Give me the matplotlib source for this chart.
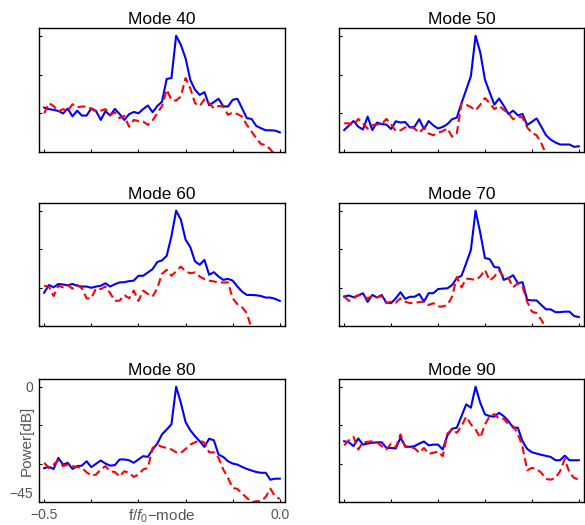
import numpy as np
import matplotlib
matplotlib.use("Agg")
from matplotlib import pyplot
from matplotlib.transforms import ScaledTranslation

pyplot.rcParams['font.family'] = ['Liberation Sans', 'DejaVu Sans']
pyplot.rcParams['mathtext.fontset'] = 'custom'
pyplot.rcParams['mathtext.rm'] = 'Liberation Sans'
pyplot.rcParams['mathtext.it'] = 'Liberation Sans:italic'

freq = np.round(np.linspace(-0.5, 0.0, 51), 2)
modes = [40, 50, 60, 70, 80, 90]

blue_40 = [-27.8, -28.4, -28.7, -29.1, -30.1, -28.2, -31.2, -29.0, -30.9, -30.9,
           -28.1, -29.1, -32.6, -29.2, -30.9, -28.3, -30.3, -32.6, -30.4, -29.5,
           -30.0, -28.4, -27.0, -29.6, -27.2, -25.5, -16.7, -16.4, 0.0, -3.5,
           -8.7, -17.1, -20.9, -22.9, -21.8, -26.9, -25.7, -24.4, -27.3, -27.4,
           -24.8, -24.4, -28.1, -31.9, -32.2, -34.9, -35.8, -36.6, -36.6, -36.7,
           -37.4]
red_40 = [-30.0, -26.1, -27.2, -29.3, -28.4, -29.1, -26.5, -27.7, -27.4, -27.4,
          -28.3, -29.3, -29.0, -28.4, -30.6, -29.6, -31.9, -31.0, -35.2, -32.6,
          -33.0, -33.2, -34.5, -32.8, -30.0, -27.2, -20.9, -24.8, -25.1, -23.5,
          -16.4, -20.3, -26.1, -27.2, -24.6, -26.1, -28.1, -27.2, -27.4, -30.6,
          -29.7, -30.3, -31.3, -34.5, -37.1, -39.7, -41.9, -42.3, -44.0, -46.2,
          -49.0]

blue_50 = [-36.5, -34.8, -33.0, -35.2, -36.3, -31.3, -36.5, -33.6, -34.2, -34.4,
           -36.1, -33.1, -33.6, -33.4, -35.5, -35.2, -32.3, -36.1, -33.0, -34.7,
           -35.9, -35.3, -34.2, -32.3, -31.7, -26.1, -20.9, -15.6, 0.0, -6.5,
           -17.0, -21.9, -26.7, -24.3, -27.1, -30.3, -29.0, -30.8, -30.3, -34.6,
           -33.3, -32.0, -35.2, -38.5, -40.2, -41.3, -42.1, -42.1, -42.1, -43.0,
           -42.8]
red_50 = [-33.9, -33.9, -34.6, -32.2, -33.9, -36.0, -34.6, -34.3, -34.2, -32.2,
          -34.3, -36.9, -36.6, -35.5, -35.2, -35.9, -37.6, -35.6, -37.8, -38.5,
          -37.6, -36.9, -35.9, -39.1, -37.8, -26.1, -26.7, -27.6, -28.9, -26.7,
          -24.1, -26.1, -28.4, -27.1, -28.7, -30.0, -32.3, -31.3, -31.6, -35.5,
          -37.6, -38.5, -41.7, -45.6, -50.2, -53.0, -56.0, -59.0, -62.0, -65.0,
          -68.0]

blue_60 = [-32.0, -29.0, -29.9, -28.6, -28.8, -29.1, -28.6, -29.3, -29.6, -29.6,
           -30.1, -29.6, -29.3, -28.3, -29.6, -28.7, -28.0, -27.9, -27.5, -27.3,
           -25.4, -25.4, -24.1, -22.8, -20.0, -19.4, -17.6, -10.0, 0.0, -3.5,
           -11.3, -14.2, -19.8, -21.1, -19.2, -25.0, -24.0, -25.7, -27.0, -26.6,
           -27.3, -29.6, -31.6, -32.9, -32.9, -33.0, -33.3, -33.9, -33.9, -34.4,
           -35.2]
red_60 = [-29.3, -29.6, -33.3, -29.3, -29.9, -29.0, -30.4, -29.0, -30.3, -34.2,
          -34.2, -30.3, -30.6, -29.6, -32.2, -35.2, -35.1, -32.9, -34.2, -31.2,
          -35.2, -31.2, -32.5, -33.5, -30.3, -24.6, -23.1, -25.4, -23.7, -21.8,
          -23.7, -24.4, -24.1, -25.7, -26.7, -27.3, -27.6, -28.0, -28.0, -28.0,
          -34.2, -36.5, -37.7, -40.0, -46.0, -50.0, -53.0, -56.0, -59.0, -62.0,
          -65.0]

blue_70 = [-33.5, -33.1, -33.8, -33.1, -32.2, -35.6, -32.9, -33.9, -32.9, -35.9,
           -36.1, -34.2, -31.8, -34.4, -33.6, -33.6, -32.5, -35.5, -32.2, -32.2,
           -30.6, -30.4, -30.3, -29.0, -26.3, -25.4, -20.5, -15.3, 0.0, -8.7,
           -18.5, -18.9, -22.0, -22.2, -27.0, -26.3, -25.2, -28.3, -27.9, -34.8,
           -35.0, -35.0, -36.8, -38.5, -38.5, -39.6, -39.6, -39.4, -39.4, -41.1,
           -41.5]
red_70 = [-33.5, -35.2, -34.2, -32.9, -33.3, -34.2, -33.3, -33.8, -33.3, -36.1,
          -35.5, -35.9, -34.2, -35.5, -36.1, -35.9, -35.7, -35.5, -36.8, -36.1,
          -37.4, -37.4, -36.8, -33.5, -25.9, -29.9, -26.5, -26.7, -27.0, -25.7,
          -23.1, -27.3, -25.7, -23.3, -25.9, -26.3, -29.9, -28.3, -29.6, -35.5,
          -39.4, -40.0, -42.6, -45.9, -49.2, -52.0, -55.0, -58.0, -60.0, -62.0,
          -64.0]

blue_80 = [-31.8, -31.3, -32.1, -27.8, -30.4, -29.7, -32.1, -31.0, -30.8, -29.1,
           -31.4, -30.1, -28.8, -30.0, -30.8, -30.6, -28.4, -28.4, -28.7, -29.7,
           -28.4, -27.1, -27.4, -24.5, -22.2, -18.6, -16.7, -14.7, 0.0, -6.3,
           -13.8, -17.0, -19.3, -21.3, -23.5, -20.3, -20.9, -26.5, -27.4, -29.1,
           -30.0, -30.4, -31.3, -32.1, -32.7, -33.3, -33.6, -33.6, -36.3, -35.9,
           -35.9]
red_80 = [-29.7, -31.7, -30.4, -28.7, -31.0, -30.4, -31.0, -31.3, -31.7, -33.4,
          -34.7, -34.3, -32.3, -31.0, -33.0, -33.3, -35.0, -33.0, -33.6, -35.2,
          -34.3, -32.3, -31.7, -23.9, -22.6, -23.5, -23.9, -24.5, -25.6, -25.8,
          -24.3, -22.6, -21.7, -20.9, -21.9, -25.6, -25.6, -27.8, -32.3, -35.6,
          -39.5, -39.9, -41.7, -43.4, -45.1, -44.7, -44.7, -43.0, -39.8, -42.8,
          -43.8]

blue_90 = [-21.3, -21.7, -23.2, -20.2, -22.6, -22.2, -21.9, -21.7, -21.7, -23.9,
           -23.9, -24.1, -19.9, -23.2, -23.5, -23.2, -22.2, -21.4, -22.9, -22.6,
           -22.6, -24.5, -19.0, -16.4, -16.0, -11.5, -6.9, -8.2, 0.0, -6.3,
           -10.8, -11.5, -11.7, -10.2, -11.5, -13.4, -16.0, -16.0, -21.3, -24.3,
           -25.6, -26.1, -26.6, -27.0, -27.4, -28.7, -28.7, -26.9, -28.7, -28.7,
           -28.7]
red_90 = [-22.9, -20.9, -19.6, -24.5, -21.7, -21.5, -21.3, -21.7, -23.2, -24.5,
          -22.2, -23.7, -18.6, -23.5, -23.7, -24.0, -25.8, -23.9, -26.2, -25.8,
          -25.3, -27.1, -18.3, -16.7, -18.0, -15.4, -11.7, -14.7, -16.7, -19.9,
          -14.7, -11.5, -10.7, -12.5, -12.5, -14.7, -15.4, -18.3, -23.5, -32.6,
          -31.7, -32.1, -33.6, -36.0, -36.3, -35.6, -33.0, -28.2, -33.6, -35.6,
          -36.3]

blue_sets = [blue_40, blue_50, blue_60, blue_70, blue_80, blue_90]
red_sets = [red_40, red_50, red_60, red_70, red_80, red_90]

fig = pyplot.figure(figsize=(5.85, 5.25), dpi=100)

lefts = [39 / 585, 339 / 585]
widths = [246 / 585, 245 / 585]
bottoms = [1 - 152 / 525, 1 - 326 / 525, 1 - 502 / 525]
heights = [124 / 525, 123 / 525, 123 / 525]
label_color = '#555555'

for i, mode in enumerate(modes):
    row, col = divmod(i, 2)
    ax = fig.add_axes([lefts[col], bottoms[row], widths[col], heights[row]])
    ax.plot(freq, blue_sets[i], color='#0000ff', lw=1.5)
    ax.plot(freq, red_sets[i], color='#ff0000', lw=1.5, linestyle=(0, (3.8, 2.0)))
    ax.set_xlim(-0.511, 0.011)
    ax.set_ylim(-45, 3)
    ax.set_xticks([-0.5, -0.4, -0.3, -0.2, -0.1, 0.0])
    ax.set_yticks([0, -15, -30, -45])
    ax.tick_params(direction='in', length=2.5, width=0.8, top=False, right=False,
                   labelsize=10, labelcolor=label_color, pad=4)
    for s in ax.spines.values():
        s.set_linewidth(1.0)
        s.set_color('black')
    ax.set_title('Mode %d' % mode, fontsize=12.5, pad=3)

    if i == 4:
        ax.set_xticklabels(['\u22120.5', '', '', '', '', '0.0'])
        ax.set_yticklabels(['0', '', '', '\u221245'])
        # the -45 label sits a little above the bottom edge in the original
        lab = ax.yaxis.get_major_ticks()[3].label1
        lab.set_transform(lab.get_transform() + ScaledTranslation(0, 0.1, fig.dpi_scale_trans))
        ax.set_xlabel('f/$f_0$\u2212mode', fontsize=11, color=label_color)
        ax.xaxis.set_label_coords(0.5, -0.045)
        ax.set_ylabel('Power[dB]', fontsize=11, color=label_color)
        ax.yaxis.set_label_coords(-0.02, 0.5)
    else:
        ax.set_xticklabels([])
        ax.set_yticklabels([])

fig.savefig("out.png", dpi=100)
